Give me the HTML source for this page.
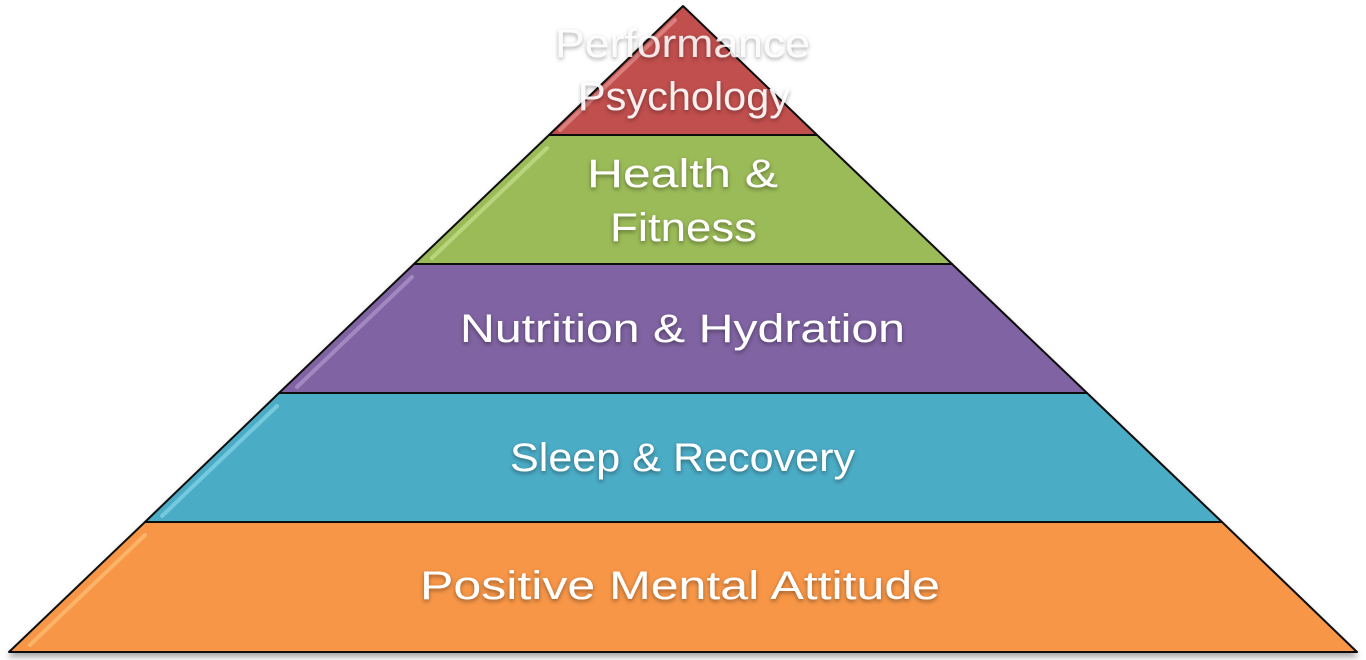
<!DOCTYPE html>
<html><head><meta charset="utf-8"><style>
html,body{margin:0;padding:0;background:#fff;width:1366px;height:660px;overflow:hidden}
text{font-family:"Liberation Sans",sans-serif;fill:#fff;font-size:40px}
</style></head><body>
<svg width="1366" height="660" viewBox="0 0 1366 660">
<defs><filter id="s" x="-10%" y="-10%" width="120%" height="130%"><feDropShadow dx="0" dy="4" stdDeviation="3" flood-color="#000" flood-opacity="0.35"/></filter>
<filter id="t"><feDropShadow dx="0" dy="2" stdDeviation="2" flood-color="#000" flood-opacity="0.4"/></filter></defs>
<g stroke="#111" stroke-width="2" stroke-linejoin="round" filter="url(#s)">
<polygon points="683,6 549,135 817,135" fill="#c0504d"/>
<polygon points="549,135 817,135 952,264 414,264" fill="#9bbb59"/>
<polygon points="414,264 952,264 1087,393 279,393" fill="#8064a2"/>
<polygon points="279,393 1087,393 1222,522 145,522" fill="#4bacc6"/>
<polygon points="145,522 1222,522 1357,652 9,652" fill="#f79646"/>
</g>
<g stroke-width="4" stroke-linecap="round" opacity="0.5" fill="none">
<line x1="675" y1="20" x2="560" y2="130" stroke="#f4b0ae"/>
<line x1="547" y1="148" x2="432" y2="258" stroke="#d8ef9f"/>
<line x1="412" y1="277" x2="297" y2="387" stroke="#c4adde"/>
<line x1="277" y1="406" x2="162" y2="516" stroke="#9fe6f8"/>
<line x1="145" y1="535" x2="30" y2="645" stroke="#ffd08a"/>
</g>
<g filter="url(#t)">
<text x="555" y="57" opacity="0.85" textLength="255" lengthAdjust="spacingAndGlyphs">Performance</text>
<text x="578" y="110" opacity="0.9" textLength="212" lengthAdjust="spacingAndGlyphs">Psychology</text>
<text x="587" y="187" textLength="191" lengthAdjust="spacingAndGlyphs">Health &amp;</text>
<text x="610" y="241" textLength="147" lengthAdjust="spacingAndGlyphs">Fitness</text>
<text x="460" y="342" textLength="445" lengthAdjust="spacingAndGlyphs">Nutrition &amp; Hydration</text>
<text x="510" y="471" textLength="345" lengthAdjust="spacingAndGlyphs">Sleep &amp; Recovery</text>
<text x="420" y="599" textLength="520" lengthAdjust="spacingAndGlyphs">Positive Mental Attitude</text>
</g>
</svg>
</body></html>
